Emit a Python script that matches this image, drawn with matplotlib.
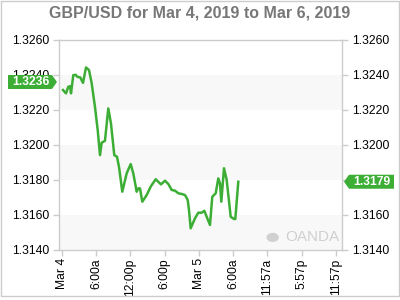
import matplotlib
matplotlib.use("Agg")
import matplotlib.pyplot as plt
from matplotlib.patches import Polygon, Rectangle, Circle

plt.rcParams['font.family'] = ['Liberation Sans', 'DejaVu Sans']

# hours since Mar 4 00:00 and GBP/USD rate
hours = [0.23, 0.75, 1.15, 1.45, 1.63, 2.03, 2.45, 2.73, 3.25, 3.73, 4.25, 4.78,
         5.25, 5.82, 6.30, 6.70, 7.00, 7.57, 8.15, 8.62, 9.20, 9.67, 10.02,
         10.60, 11.37, 12.07, 12.52, 13.12, 13.40, 13.70, 14.10, 14.87, 15.62,
         16.44, 17.37, 18.07, 18.65, 19.24, 19.82, 20.40, 20.99, 21.57, 22.04,
         22.27, 22.56, 23.32, 23.89, 24.49, 24.94, 25.36, 25.94, 26.34, 26.94,
         27.39, 27.69, 27.92, 28.39, 28.86, 29.56, 30.14, 30.37, 30.89]
rates = [1.32314, 1.32295, 1.32332, 1.32336, 1.32295, 1.32399, 1.32401, 1.32390,
         1.32386, 1.32355, 1.32443, 1.32428, 1.32352, 1.32218, 1.32085, 1.31942,
         1.32013, 1.32024, 1.32209, 1.32123, 1.31942, 1.31933, 1.31876,
         1.31733, 1.31838, 1.31891, 1.31838, 1.31733, 1.31752, 1.31752, 1.31676,
         1.31714, 1.31765, 1.31804, 1.31775, 1.31796, 1.31777, 1.31743, 1.31739,
         1.31724, 1.31720, 1.31714, 1.31686, 1.31628, 1.31524, 1.31581, 1.31613,
         1.31613, 1.31624, 1.31590, 1.31543, 1.31704, 1.31724, 1.31809, 1.31781,
         1.31676, 1.31867, 1.31800, 1.31590, 1.31577, 1.31577, 1.31790]

tick_hours = [0, 6, 12, 18, 24, 30, 35.95, 41.95, 47.95]
tick_labels = ['Mar 4', '6:00a', '12:00p', '6:00p', 'Mar 5', '6:00a',
               '11:57a', '5:57p', '11:57p']
y_ticks = [1.3140, 1.3160, 1.3180, 1.3200, 1.3220, 1.3240, 1.3260]
bands = [(1.3140, 1.3160), (1.3180, 1.3200), (1.3220, 1.3240)]
open_rate = 1.3236
last_rate = 1.3179

GREEN = '#3cae35'
GRID = '#cccccc'

fig = plt.figure(figsize=(4, 3), dpi=100)
fig.patches.append(Rectangle((0.002, 0.015), 0.995, 0.982, transform=fig.transFigure,
                             fill=False, edgecolor='#cccccc', linewidth=1))
ax = fig.add_axes([0.1475, 0.1667, 0.7075, 0.7])

for lo, hi in bands:
    ax.axhspan(lo, hi, color='#f8f8f8', zorder=0, linewidth=0)

ax.plot(hours, rates, color=GREEN, linewidth=1.8, zorder=3)

ax.set_xlim(-0.47, 49.03)
ax.set_ylim(1.3140, 1.3260)
ax.set_xticks(tick_hours)
ax.set_xticklabels(tick_labels, rotation=90)
ax.set_yticks(y_ticks)
ax.set_yticklabels([f'{v:.4f}' for v in y_ticks])
ax.tick_params(axis='both', labelsize=8.7, color=GRID, length=4, width=1,
               labelcolor='black', pad=2)
ax.tick_params(axis='y', right=True, labelright=True, pad=3)
for s in ax.spines.values():
    s.set_color(GRID)
    s.set_linewidth(1)

fig.text(0.5, 0.957, 'GBP/USD for Mar 4, 2019 to Mar 6, 2019', ha='center',
         va='center', fontsize=11.5, fontweight='bold', color='#777777')

# watermark
ax.text(0.99, 0.06, 'OANDA', transform=ax.transAxes, ha='right', va='center',
        fontsize=11, color='#d0d0d0', zorder=1)
ax.add_patch(Circle((0.755, 0.06), 0.022, transform=ax.transAxes,
                    facecolor='#d0d0d0', edgecolor='none', zorder=1))

# price tags (drawn in pixel space)
fig.canvas.draw()


def price_tag(value, side):
    _, yp = ax.transData.transform((0, value))
    h = 7
    if side == 'left':
        x0, x1, tip = 8, 52, 57
        pts = [(x0, yp - h), (x1, yp - h), (tip, yp), (x1, yp + h), (x0, yp + h)]
        tx = (x0 + x1) / 2 + 1
    else:
        tip, x0, x1 = 344, 349, 394
        pts = [(tip, yp), (x0, yp - h), (x1, yp - h), (x1, yp + h), (x0, yp + h)]
        tx = (x0 + x1) / 2
    fig.patches.append(Polygon(pts, closed=True, transform=None,
                               facecolor=GREEN, edgecolor='none', zorder=5))
    xf, yf = fig.transFigure.inverted().transform((tx, yp))
    fig.text(xf, yf, f'{value:.4f}', ha='center', va='center', fontsize=8.7,
             fontweight='bold', color='white', zorder=6)


price_tag(open_rate, 'left')
price_tag(last_rate, 'right')

fig.savefig('out.png', dpi=100, facecolor='white')
